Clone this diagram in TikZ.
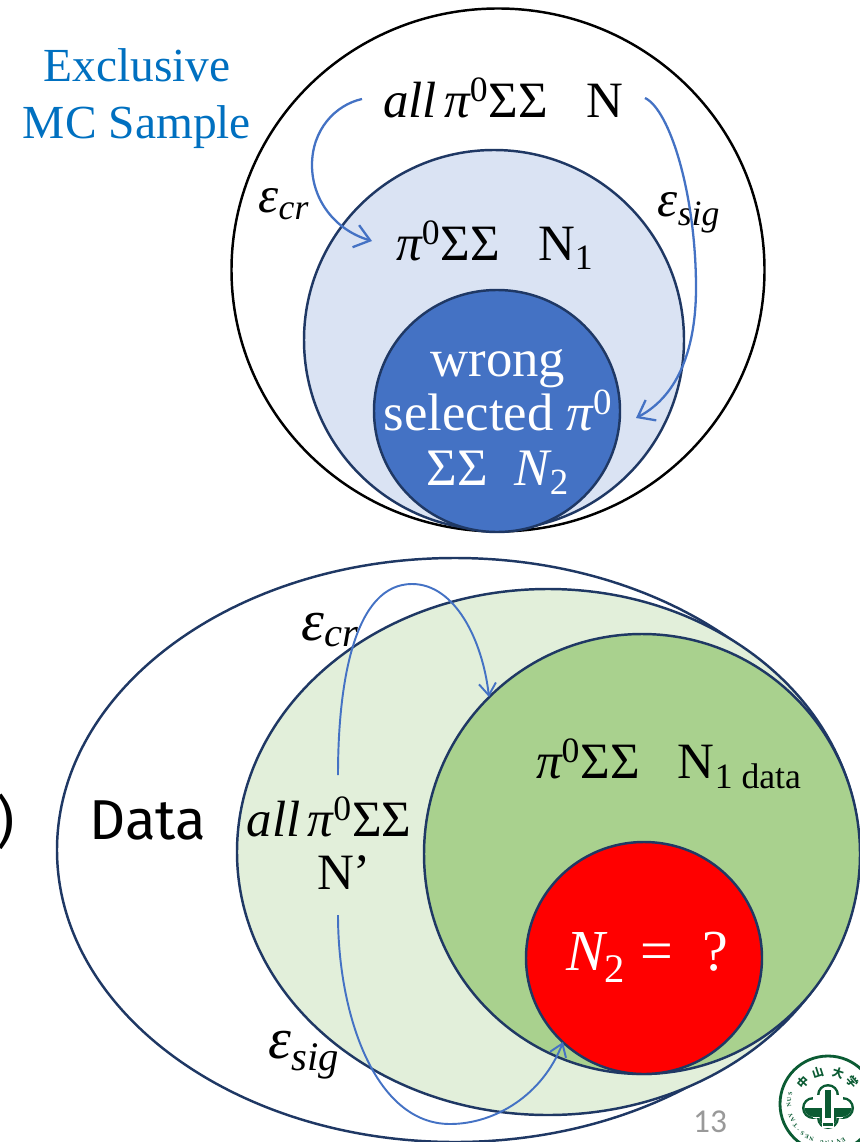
\documentclass[tikz,border=0pt]{standalone}
\usepackage{amsmath,amssymb}
\usepackage{fontspec}
\setmainfont{Liberation Serif}
\newfontfamily\datafont{Fira Sans}
\newfontfamily\pagefont{Carlito}
\newfontfamily\cjkfont{Noto Sans CJK SC}
\usetikzlibrary{arrows.meta,shapes.geometric,calc}
\definecolor{navyc}{HTML}{1F3864}
\definecolor{arrowc}{HTML}{4472C4}
\definecolor{paleblue}{HTML}{DAE3F3}
\definecolor{palegreen}{HTML}{E2EFDA}
\definecolor{midgreen}{HTML}{A9D18E}
\definecolor{titlec}{HTML}{0070C0}
\definecolor{logoc}{HTML}{0B5B33}
\newcommand{\itl}[1]{\text{\itshape #1}}
\newcommand{\upl}[1]{\text{\upshape #1}}

\begin{document}
\begin{tikzpicture}[
      blob/.style={ellipse,draw=navyc,line width=1.4pt,inner sep=0pt},
      lab/.style={inner sep=0pt,font=\fontsize{29}{33}\selectfont},
      biglab/.style={inner sep=0pt,font=\fontsize{33}{36}\selectfont},
      flow/.style={draw=arrowc,line width=1.3pt,-{Straight Barb[length=3mm,width=4.6mm]}},
      flowthin/.style={draw=arrowc,line width=1.1pt,-{Straight Barb[length=2.4mm,width=3.4mm]}},
    ]
    \useasboundingbox (0,0) rectangle (17.18,-22.84);
    % MC sample
    \node[blob,draw=black,fill=white,minimum width=10.66cm,minimum height=10.46cm] (allmc) at (9.96,-5.40) {};
    \node[blob,fill=paleblue,minimum width=7.6cm,minimum height=7.6cm] (selmc) at (9.88,-6.80) {};
    \node[blob,fill=arrowc,minimum width=4.92cm,minimum height=4.84cm] (wrongmc) at (9.94,-8.22) {};
    \node[lab,font=\fontsize{27}{32.5}\selectfont,text=titlec,align=center] (title) at (2.74,-1.98) {Exclusive\\MC Sample};
    \node[lab] (allmclab) at (10.06,-1.96) {$\itl{all}\,\itl{π}^{\upl{0}}\upl{ΣΣ}\ \ \ \upl{N}$};
    \node[lab] (selmclab) at (9.90,-4.90) {$\itl{π}^{\upl{0}}\upl{ΣΣ}\ \ \ \upl{N}_{\upl{1}}$};
    \node[lab] (crmc) at (5.68,-4.08) {$\itl{ε}_{\itl{cr}}$};
    \node[lab] (sigmc) at (13.78,-4.26) {$\itl{ε}_{\itl{sig}}$};
    \node[lab,font=\fontsize{30}{31}\selectfont,text=white,align=center] (wronglab) at (9.96,-8.44) {wrong\\selected $\itl{π}^{\upl{0}}$\\$\upl{ΣΣ}\ \ \itl{N}_{\upl{2}}$};
    \coordinate (mcstartl) at (7.24,-1.98);
    \coordinate (mcendl) at (7.44,-4.82);
    \coordinate (mcstartr) at (12.90,-1.96);
    \coordinate (mcendr) at (12.72,-8.36);
    \draw[flow] (mcstartl) .. controls (6.7,-2.1) and (6.24,-2.6) .. (6.24,-3.3) .. controls (6.24,-4.0) and (6.7,-4.6) .. (mcendl);
    \draw[flow] (mcstartr) .. controls (13.4,-2.2) and (13.92,-3.9) .. (13.92,-5.76) .. controls (13.92,-6.9) and (13.6,-7.9) .. (mcendr);
    % data
    \node[blob,minimum width=15.92cm,minimum height=11.68cm] (alldata) at (9.10,-17.00) {};
    \node[blob,fill=palegreen,minimum width=12.44cm,minimum height=10.52cm] (crdata) at (10.96,-17.04) {};
    \node[blob,fill=midgreen,minimum width=8.72cm,minimum height=8.8cm] (seldata) at (12.84,-17.08) {};
    \node[blob,fill=red,minimum width=4.72cm,minimum height=4.64cm] (wrongdata) at (12.88,-19.16) {};
    \node[lab,font=\datafont\fontsize{32}{36}\selectfont] (datalab) at (2.96,-16.40) {Data};
    \node[lab,font=\datafont\fontsize{32}{36}\selectfont] (paren) at (0.12,-16.44) {)};
    \node[lab] (alldatalab) at (6.58,-16.34) {$\itl{all}\,\itl{π}^{\upl{0}}\upl{ΣΣ}$};
    \node[lab] (primelab) at (6.88,-17.46) {N’};
    \node[lab] (seldatalab) at (13.38,-15.28) {$\itl{π}^{\upl{0}}\upl{ΣΣ}\ \ \ \upl{N}_{\upl{1 data}}$};
    \node[biglab,text=white] (wrongdatalab) at (12.94,-19.14) {$\itl{N}_{\upl{2}}\ \upl{=}\ \ \upl{?}$};
    \node[biglab] (crdatalab) at (6.60,-12.60) {$\itl{ε}_{\itl{cr}}$};
    \node[biglab] (sigdatalab) at (6.08,-21.10) {$\itl{ε}_{\itl{sig}}$};
    \coordinate (datastartt) at (6.76,-15.50);
    \coordinate (dataendt) at (9.78,-13.94);
    \coordinate (datastartb) at (6.76,-18.30);
    \coordinate (dataendb) at (11.26,-20.84);
    \draw[flowthin] (datastartt) .. controls (6.76,-13.6) and (7.1,-11.68) .. (8.24,-11.68) .. controls (9.1,-11.68) and (9.65,-12.8) .. (dataendt);
    \draw[flowthin] (datastartb) .. controls (6.76,-20.3) and (7.5,-22.48) .. (9.0,-22.48) .. controls (9.9,-22.48) and (10.85,-21.9) .. (dataendb);
    \node[inner sep=0pt,text=gray!80,font=\pagefont\fontsize{19}{22}\selectfont] (pagenum) at (14.20,-22.44) {13};
    % logo
    \node[circle,draw=logoc,line width=1.6pt,fill=white,minimum size=1.92cm,inner sep=0pt] (logo) at (16.56,-22.08) {};
    \foreach \a/\c in {138/中,108/山,72/大,42/学} {
      \node[inner sep=0pt,text=logoc,rotate=\a-90,font=\cjkfont\bfseries\fontsize{6.5}{7}\selectfont] at ($(logo)+(\a:0.66)$) {\c};
    }
    \foreach \c [count=\i] in {S,U,N,{ },Y,A,T,-,S,E,N,{ },U,N,I,V,E} {
      \node[inner sep=0pt,text=logoc,rotate={80+8*\i},font=\fontsize{3.4}{4}\selectfont\bfseries] at ($(logo)+({157+8*\i}:0.78)$) {\c};
    }
    \foreach \p in {(16.56,-21.90),(16.26,-22.16),(16.86,-22.16),(16.56,-22.36)} {
      \fill[logoc] \p circle (0.22);
    }
    \foreach \p in {(16.56,-21.90),(16.26,-22.16),(16.86,-22.16),(16.56,-22.36)} {
      \fill[white] \p circle (0.17);
    }
    \fill[white] (16.26,-22.36) rectangle (16.86,-21.90);
    \begin{scope}
      \clip (16.0,-22.7) rectangle (17.2,-22.16);
      \foreach \p in {(16.26,-22.16),(16.86,-22.16),(16.56,-22.36)} {
        \fill[logoc] \p circle (0.17);
      }
      \fill[logoc] (16.26,-22.34) rectangle (16.86,-22.10);
    \end{scope}
    \fill[white] (16.44,-22.56) rectangle (16.68,-21.96);
    \fill[logoc] (16.50,-22.36) rectangle (16.62,-21.80);
    \fill[logoc] (16.46,-22.52) rectangle (16.66,-22.46);
  \end{tikzpicture}
\end{document}
